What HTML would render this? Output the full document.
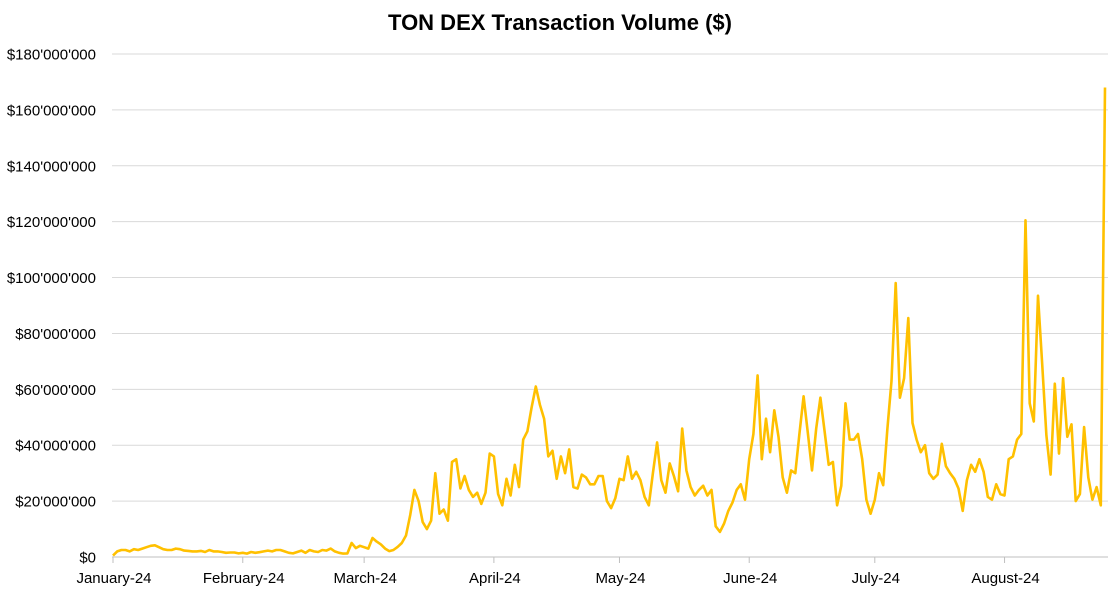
<!DOCTYPE html>
<html><head><meta charset="utf-8"><style>
body{margin:0;background:#fff;}
svg{display:block;font-family:"Liberation Sans",Arial,sans-serif;}
</style></head><body>
<svg id="chart" width="1120" height="594" viewBox="0 0 1120 594" xmlns="http://www.w3.org/2000/svg">
<text x="560" y="30" text-anchor="middle" font-size="22" font-weight="bold" fill="#000">TON DEX Transaction Volume ($)</text>
<g id="grid"></g><g id="yticks"></g><g id="xticks"></g><g id="series"></g>
</svg>
<script>
const yTickValues = [0,20,40,60,80,100,120,140,160,180];
const yTickLabels = ["$0","$20'000'000","$40'000'000","$60'000'000","$80'000'000","$100'000'000","$120'000'000","$140'000'000","$160'000'000","$180'000'000"];
const monthLabels = ["January-24","February-24","March-24","April-24","May-24","June-24","July-24","August-24"];
const monthStartIndex = [0,31,60,91,121,152,182,213];
// daily volume in millions of USD
const volumeJan = [0.5,2,2.5,2.5,2,2.8,2.5,3,3.5,4,4.2,3.5,2.8,2.5,2.5,3,2.8,2.3,2.2,2,2,2.2,1.8,2.5,2,2,1.8,1.5,1.6,1.6,1.3];
const volumeFeb = [1.5,1.2,1.8,1.5,1.7,2,2.3,2,2.5,2.5,2,1.5,1.3,1.8,2.3,1.5,2.5,2,1.8,2.5,2.3,3,2,1.5,1.2,1.3];
const volumeMarApr = [5,3.2,4,3.5,3,6.8,5.5,4.5,3,2.1,2.5,3.6,5,7.7,15,24,20,12.5,10,13,30,15.5,17,13,34,35,24.5,29,24,21.5,23,19,23,37,36,22.5,18.5,28,22,33,25,42,45,53.5,61,54.5,49.5,36,38,28,36,30,38.5,25,24.5,29.5,28.5,26,26,29,29,20,17.5,21,28,27.5,36];
const volumeMayJun = [28,30.5,27.5,21.5,18.5,30,41,27.5,23,33.5,29,23.5,46,31,25,22,24,25.5,22,24,11,9,12,16.5,19.5,24,26,20.5,35,44,65,35,49.5,37.5,52.5,43,28.5,23,31,30,44,57.5,44.5,31,46,57,45,33,34,18.5,25.5,55,42,42,44,35,20.5,15.5,20.5,30];
const volumeJulAug = [25.7,45.5,63,98,57,64,85.5,48,42,37.5,40,30,28,29.5,40.5,32.5,30,28,24.5,16.5,27.5,33,30.5,35,30.5,21.5,20.5,26,22.5,22,35,36,42,44,120.5,55,48.5,93.5,69,43.5,29.5,62,37,64,43,47.5,20,22.5,46.5,28.5,20.5,25,18.5,168];
const volume = [].concat(volumeJan, volumeFeb, volumeMarApr, volumeMayJun, volumeJulAug);

const NS="http://www.w3.org/2000/svg";
const X0=113, X1=1105, Y0=557, Y1=54, YMAX=180;
const xs = i => X0 + i*(X1-X0)/(volume.length-1);
const ys = v => Y0 - v*(Y0-Y1)/YMAX;
function mk(tag, parent){const e=document.createElementNS(NS,tag);document.getElementById(parent).appendChild(e);return e;}

yTickValues.forEach((v,k)=>{
  const l=mk('line','grid');
  
  
  l.setAttribute('x1',112);l.setAttribute('x2',1108);
  l.setAttribute('y1',ys(v));l.setAttribute('y2',ys(v));
  l.setAttribute('stroke', v===0?'#bfbfbf':'#d9d9d9');l.setAttribute('stroke-width',1);
  const t=mk('text','yticks');
  
  
  t.setAttribute('x',96);t.setAttribute('y',ys(v)+5.5);
  t.setAttribute('text-anchor','end');t.setAttribute('font-size','15');t.setAttribute('fill','#000');
  t.textContent=yTickLabels[k];
});
monthLabels.forEach((m,k)=>{
  const x=xs(monthStartIndex[k]);
  const tk=mk('line','xticks');
  
  
  tk.setAttribute('x1',x);tk.setAttribute('x2',x);tk.setAttribute('y1',557);tk.setAttribute('y2',563);
  tk.setAttribute('stroke','#bfbfbf');
  const t=mk('text','xticks');
  
  
  t.setAttribute('x',x+1);t.setAttribute('y',583);
  t.setAttribute('text-anchor','middle');t.setAttribute('font-size','15');t.setAttribute('fill','#000');
  t.textContent=m;
});
const p=mk('polyline','series');


p.setAttribute('points',volume.map((v,i)=>xs(i).toFixed(1)+','+ys(v).toFixed(1)).join(' '));
p.setAttribute('fill','none');p.setAttribute('stroke','#FFC000');p.setAttribute('stroke-width','2.6');
p.setAttribute('stroke-linejoin','round');
</script>
</body></html>
